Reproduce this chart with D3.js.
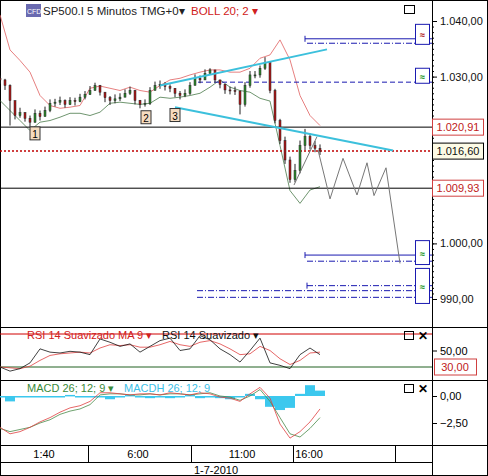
<!DOCTYPE html>
<html><head><meta charset="utf-8">
<script src="https://cdn.jsdelivr.net/npm/d3@7"></script>
<style>body{margin:0;background:#fff}svg{font-family:Arial,"Liberation Sans",sans-serif}</style>
</head><body><svg id="c" width="488" height="476"></svg>
<script>
// candles, one every 5px slot
const closes = [1029.4,1028.4,1025.7,1023.0,1023.5,1022.5,1021.8,1023.4,1022.8,1023.9,1025.2,1025.4,1025.7,1025.0,1025.7,1025.5,1026.3,1026.8,1027.5,1028.4,1027.2,1026.2,1025.7,1026.0,1026.3,1027.0,1027.5,1025.7,1025.0,1025.2,1027.5,1028.4,1028.6,1028.2,1027.9,1027.0,1026.6,1027.0,1028.4,1029.7,1029.4,1030.6,1031.2,1029.4,1028.6,1027.6,1027.5,1027.4,1025.0,1028.4,1030.3,1030.3,1031.5,1032.5,1027.5,1022.1,1018.5,1015.0,1011.5,1013.1,1017.6,1019.2,1017.6,1017.1,1016.6];
const highs = [1030.2,1029.6,1028.6,1024.0,1024.4,1023.6,1023.0,1024.1,1023.9,1024.6,1025.9,1026.0,1026.4,1025.9,1026.3,1026.2,1026.9,1027.4,1028.3,1028.9,1028.5,1027.1,1026.5,1026.8,1027.0,1027.7,1028.2,1027.6,1025.8,1025.9,1028.1,1029.1,1029.3,1029.0,1028.6,1027.9,1027.4,1027.7,1029.0,1030.4,1030.2,1031.3,1031.5,1031.0,1029.3,1028.7,1028.2,1028.2,1027.5,1029.0,1031.0,1031.0,1032.0,1033.5,1032.8,1027.8,1022.4,1019.2,1015.6,1014.3,1018.5,1020.6,1019.8,1018.4,1017.8];
const lows = [1028.7,1027.6,1021.2,1022.3,1022.6,1021.9,1021.0,1021.7,1022.1,1022.9,1023.6,1024.6,1024.9,1024.4,1024.9,1024.8,1025.4,1025.9,1026.7,1027.5,1026.6,1025.4,1024.9,1025.2,1025.6,1026.3,1026.7,1025.0,1024.3,1024.6,1024.9,1027.7,1027.8,1027.5,1027.2,1026.3,1025.9,1026.3,1026.7,1028.7,1028.8,1029.8,1030.5,1028.9,1027.9,1026.9,1026.8,1026.7,1023.2,1024.6,1028.0,1029.7,1029.8,1031.2,1027.0,1021.6,1017.9,1014.3,1010.9,1011.0,1012.6,1016.8,1016.9,1016.4,1015.9];

// bands and indicators, one value every 10px (every 2nd slot)
const bollUp = [1041.1,1034.8,1032.9,1030.8,1026.6,1024.8,1024.3,1024.5,1024.8,1027.9,1028.3,1027.9,1027.5,1028.1,1027.5,1027.2,1028.4,1029.4,1029.7,1030.3,1030.8,1031.2,1031.2,1030.8,1030.8,1031.5,1033.3,1033.9,1036.6,1033.0,1026.6,1023.0,1021.2];
const bollLo = [1025.7,1023.9,1022.1,1020.3,1021.8,1022.1,1022.7,1023.4,1023.4,1023.0,1023.6,1025.2,1025.4,1025.2,1025.0,1025.2,1026.3,1026.1,1026.3,1026.6,1027.0,1028.1,1029.4,1028.1,1027.5,1027.2,1026.1,1025.6,1017.6,1009.5,1007.2,1009.6,1010.2];
const rsi = [30,25,28,35,52,48,47,49,48,45,64,60,55,58,48,55,62,65,50,52,68,63,52,45,36,50,65,35,32,28,45,53,45];
const rsiMa = [30,29,28,31,38,44,46,47,48,47,53,57,56,57,54,54,57,61,57,55,60,62,58,52,45,46,55,50,40,33,38,47,48];
const macd = [-3.0,-3.3,-3.1,-2.9,-2.5,-2.2,-1.7,-1.4,-1.2,-0.8,0.1,0.2,0.2,0.1,0.1,0.2,0.1,0.2,0.2,0.1,0.2,0.3,0.0,-0.1,-0.4,0.0,0.6,-0.5,-2.0,-3.5,-3.8,-3.0,-2.0];
const macdSig = [-2.9,-3.5,-3.3,-2.9,-2.4,-2.0,-1.5,-1.1,-0.9,-0.5,0.3,0.3,0.2,0.1,0.2,0.2,0.1,0.3,0.2,0.1,0.3,0.2,-0.1,-0.2,-0.5,0.2,0.8,-0.2,-2.6,-3.9,-3.3,-2.4,-1.2];
const macdHist = [-0.1,-0.5,0,0,-0.1,0,0,0.1,0,-0.1,0,-0.3,0,0.1,-0.1,-0.2,0,-0.2,0,0.1,-0.2,0,-0.2,-0.3,-0.1,0.2,-0.3,-1.0,-1.3,-1.1,0.2,1.0,0.5];

// drawing objects
const zigzag = [[63.6,1016.8],[66,1008.0],[68.6,1015.3],[71.4,1008.7],[73.4,1014.5],[74.8,1008.6],[77.2,1013.6],[80,996.4]];
const trendUp = [[32,1028.4],[65.4,1034.9]];
const trendDn = [[35,1024.5],[78.6,1016.7]];
const levels = [1020.91, 1009.93];
const lastPrice = 1016.60;
const timeTicks = [[8.8,"1:40"],[27.6,"6:00"],[48.4,"11:00"],[61.8,"16:00"]];
const timeSeps = [17.6, 38.2, 58.6, 79];
const priceTicks = [990, 1000, 1030, 1040];

const svg = d3.select("#c");
const W = 432;
const x = d3.scaleLinear().domain([0, 86.4]).range([0, W]);
const y = d3.scaleLinear().domain([990, 1040]).range([299, 21]);
const yR = d3.scaleLinear().domain([30, 70]).range([367, 334]);
const yM = d3.scaleLinear().domain([-2.5, 0]).range([423, 396]);
const fmt = d3.format(",.2f");
const es = v => fmt(v).replace(/,/g,"#").replace(/\./g,",").replace(/#/g,".");

// frames
svg.append("rect").attr("x",0.5).attr("y",0.5).attr("width",487).attr("height",475).attr("fill","none").attr("stroke","#000");
[[327],[380],[445],[462]].forEach(d => svg.append("line").attr("x1",0).attr("x2",d[0]==462?432:488).attr("y1",d[0]+.5).attr("y2",d[0]+.5).attr("stroke","#000"));
svg.append("line").attr("x1",W+.5).attr("x2",W+.5).attr("y1",0).attr("y2",476).attr("stroke","#000");

// main panel
const main = svg.append("g");
main.append("path").datum(bollUp).attr("fill","none").attr("stroke","#e06060").attr("stroke-width",0.8)
  .attr("d", d3.line().x((d,i)=>x(i*2)).y(d=>y(d)));
main.append("path").datum(bollLo).attr("fill","none").attr("stroke","#4a7a4a").attr("stroke-width",0.8)
  .attr("d", d3.line().x((d,i)=>x(i*2)).y(d=>y(d)));

levels.forEach(v => main.append("line").attr("x1",0).attr("x2",W).attr("y1",y(v)).attr("y2",y(v)).attr("stroke","#000"));
main.append("line").attr("x1",0).attr("x2",W).attr("y1",y(lastPrice)).attr("y2",y(lastPrice))
  .attr("stroke","#c00000").attr("stroke-width",1.5).attr("stroke-dasharray","2,2");

// blue order lines: [price, startSlot, dash]
const blue = [[1036.8,61,null],[1036.0,61.4,"6,2,1,2"],[1029.0,39.6,"5,3"],[997.9,61,null],[996.8,61.4,"6,2,1,2"],[992.4,61.4,"6,2,1,2"],[991.5,39.4,"6,2,1,2"],[990.3,39.4,"6,2,1,2"]];
blue.forEach(b => {
  main.append("line").attr("x1",x(b[1])).attr("x2",W).attr("y1",y(b[0])).attr("y2",y(b[0]))
    .attr("stroke","#1a1ab0").attr("stroke-dasharray",b[2]);
  if (b[1] > 60 && !b[2] || b[0]===992.4) main.append("line").attr("x1",x(b[1])).attr("x2",x(b[1])).attr("y1",y(b[0])-3).attr("y2",y(b[0])+3).attr("stroke","#1a1ab0");
});
[[1039.4,1035.8,"#a00"],[1031.5,1028.8,"#080"],[1000.5,996.2,"#080"],[995.5,989.2,"#080"]].forEach(b => {
  main.append("rect").attr("x",415.5).attr("y",y(b[0])).attr("width",14).attr("height",y(b[1])-y(b[0]))
    .attr("fill","#fff").attr("stroke","#1a1ab0");
  main.append("text").attr("x",422.5).attr("y",(y(b[0])+y(b[1]))/2+4).attr("text-anchor","middle")
    .attr("font-size",9).attr("font-weight","bold").attr("fill",b[2]).text("≈");
});

// candles
const cw = 2;
closes.forEach((c,i) => {
  const o = i ? closes[i-1] : c + 0.3;
  const col = c >= o ? "#2e8b2e" : "#b01818";
  const g = main.append("g");
  g.append("line").attr("x1",x(i)).attr("x2",x(i)).attr("y1",y(highs[i])).attr("y2",y(lows[i])).attr("stroke","#222");
  g.append("rect").attr("x",x(i)-cw/2).attr("width",cw).attr("y",y(Math.max(o,c)))
    .attr("height",Math.max(1,Math.abs(y(o)-y(c)))).attr("fill",col).attr("stroke","#222").attr("stroke-width",0.5);
});

main.append("path").datum(zigzag).attr("fill","none").attr("stroke","#777")
  .attr("d", d3.line().x(d=>x(d[0])).y(d=>y(d[1])));
main.append("path").datum([[58.8,1010.5],[63.4,1019.2]]).attr("fill","none").attr("stroke","#777")
  .attr("d", d3.line().x(d=>x(d[0])).y(d=>y(d[1])));
[trendUp, trendDn].forEach(t => main.append("path").datum(t).attr("fill","none").attr("stroke","#3cc0dc").attr("stroke-width",2)
  .attr("d", d3.line().x(d=>x(d[0])).y(d=>y(d[1]))));

// wave labels
[[7,1019.7,"1"],[29.2,1022.6,"2"],[35,1023.0,"3"]].forEach(l => {
  main.append("rect").attr("x",x(l[0])-5).attr("y",y(l[1])-7).attr("width",10).attr("height",13)
    .attr("fill","#f6dcc0").attr("stroke","#333");
  main.append("text").attr("x",x(l[0])).attr("y",y(l[1])+4).attr("text-anchor","middle").attr("font-size",10).text(l[2]);
});

// header
svg.append("rect").attr("x",26).attr("y",4).attr("width",15).attr("height",13).attr("fill","#6a6ab0");
svg.append("text").attr("x",27).attr("y",14).attr("font-size",7).attr("fill","#fff").text("CFD");
svg.append("text").attr("x",43).attr("y",15).attr("font-size",11.5).attr("fill","#222").text("SP500.I 5 Minutos TMG+0▾");
svg.append("text").attr("x",191).attr("y",15).attr("font-size",11.5).attr("fill","#d02020").text("BOLL 20; 2 ▾");
svg.append("rect").attr("x",404.5).attr("y",5.5).attr("width",10).attr("height",8).attr("fill","none").attr("stroke","#000");

// price axis
const ax = svg.append("g").attr("transform",`translate(${W},0)`)
  .call(d3.axisRight(y).tickValues(priceTicks).tickFormat(es).tickSize(5));
ax.select(".domain").remove();
ax.selectAll("text").attr("font-size",11).attr("fill","#111").attr("font-family","Arial,'Liberation Sans',sans-serif");
svg.append("g").attr("transform",`translate(${W},0)`)
  .call(d3.axisRight(y).ticks(50).tickFormat("").tickSize(2)).select(".domain").remove();

function tag(v, yy, stroke, fill, color) {
  svg.append("rect").attr("x",432.5).attr("y",yy-8).attr("width",51).attr("height",16).attr("fill",fill).attr("stroke",stroke);
  svg.append("text").attr("x",458).attr("y",yy+4).attr("text-anchor","middle").attr("font-size",11).attr("fill",color).text(v);
}
tag(es(levels[0]), y(levels[0]), "#d04040", "#fff", "#c02020");
tag(es(lastPrice), y(lastPrice), "#000", "#fdfbe6", "#111");
tag(es(levels[1]), y(levels[1]), "#d04040", "#fff", "#c02020");

// RSI
const rp = svg.append("g");
rp.append("line").attr("x1",0).attr("x2",W).attr("y1",yR(70)).attr("y2",yR(70)).attr("stroke","#d00000");
rp.append("line").attr("x1",0).attr("x2",W).attr("y1",yR(30)).attr("y2",yR(30)).attr("stroke","#206020");
rp.append("path").datum(rsiMa).attr("fill","none").attr("stroke","#e04040").attr("stroke-width",0.8)
  .attr("d", d3.line().x((d,i)=>x(i*2)).y(d=>yR(d)));
rp.append("path").datum(rsi).attr("fill","none").attr("stroke","#111").attr("stroke-width",0.8)
  .attr("d", d3.line().x((d,i)=>x(i*2)).y(d=>yR(d)));
rp.append("text").attr("x",27).attr("y",339).attr("font-size",11).attr("fill","#d02020").text("RSI 14 Suavizado MA 9 ▾");
rp.append("text").attr("x",162).attr("y",339).attr("font-size",11).attr("fill","#111").text("RSI 14 Suavizado ▾");
const ra = svg.append("g").attr("transform",`translate(${W},0)`).call(d3.axisRight(yR).tickValues([50]).tickFormat(es).tickSize(5));
ra.select(".domain").remove(); ra.selectAll("text").attr("font-size",11);
svg.append("rect").attr("x",434.5).attr("y",yR(30)-8).attr("width",42).attr("height",16).attr("fill","#fff").attr("stroke","#d04040");
svg.append("text").attr("x",455).attr("y",yR(30)+4).attr("text-anchor","middle").attr("font-size",11).attr("fill","#c02020").text(es(30));

// MACD
const mp = svg.append("g");
const bw = x(2)-x(0);
macdHist.forEach((v,i) => mp.append("rect").attr("x",x(i*2)-bw/2).attr("width",bw)
  .attr("y",Math.min(yM(v),yM(0))).attr("height",Math.max(1.5,Math.abs(yM(v)-yM(0)))).attr("fill","#3cc8ee"));
mp.append("path").datum(macd).attr("fill","none").attr("stroke","#4a8a4a").attr("stroke-width",0.8)
  .attr("d", d3.line().x((d,i)=>x(i*2)).y(d=>yM(d)));
mp.append("path").datum(macdSig).attr("fill","none").attr("stroke","#e04040").attr("stroke-width",0.8)
  .attr("d", d3.line().x((d,i)=>x(i*2)).y(d=>yM(d)));
mp.append("text").attr("x",27).attr("y",392).attr("font-size",11).attr("fill","#3a8a3a").text("MACD 26; 12; 9 ▾");
mp.append("text").attr("x",124).attr("y",392).attr("font-size",11).attr("fill","#3cc0e8").text("MACDH 26; 12; 9");
const ma = svg.append("g").attr("transform",`translate(${W},0)`).call(d3.axisRight(yM).tickValues([-2.5,0]).tickFormat(es).tickSize(5));
ma.select(".domain").remove(); ma.selectAll("text").attr("font-size",11);

// panel buttons
[331,384].forEach(t => {
  svg.append("rect").attr("x",404.5).attr("y",t+.5).attr("width",9).attr("height",8).attr("fill","none").attr("stroke","#000");
  svg.append("text").attr("x",418).attr("y",t+9).attr("font-size",12).attr("font-weight","bold").text("✕");
});

// time axis
timeSeps.forEach(s => svg.append("line").attr("x1",x(s)+.5).attr("x2",x(s)+.5).attr("y1",445).attr("y2",462).attr("stroke","#000"));
timeTicks.forEach(t => svg.append("text").attr("x",x(t[0])).attr("y",458).attr("text-anchor","middle").attr("font-size",11).text(t[1]));
svg.append("text").attr("x",216).attr("y",474).attr("text-anchor","middle").attr("font-size",11).text("1-7-2010");
</script></body></html>
